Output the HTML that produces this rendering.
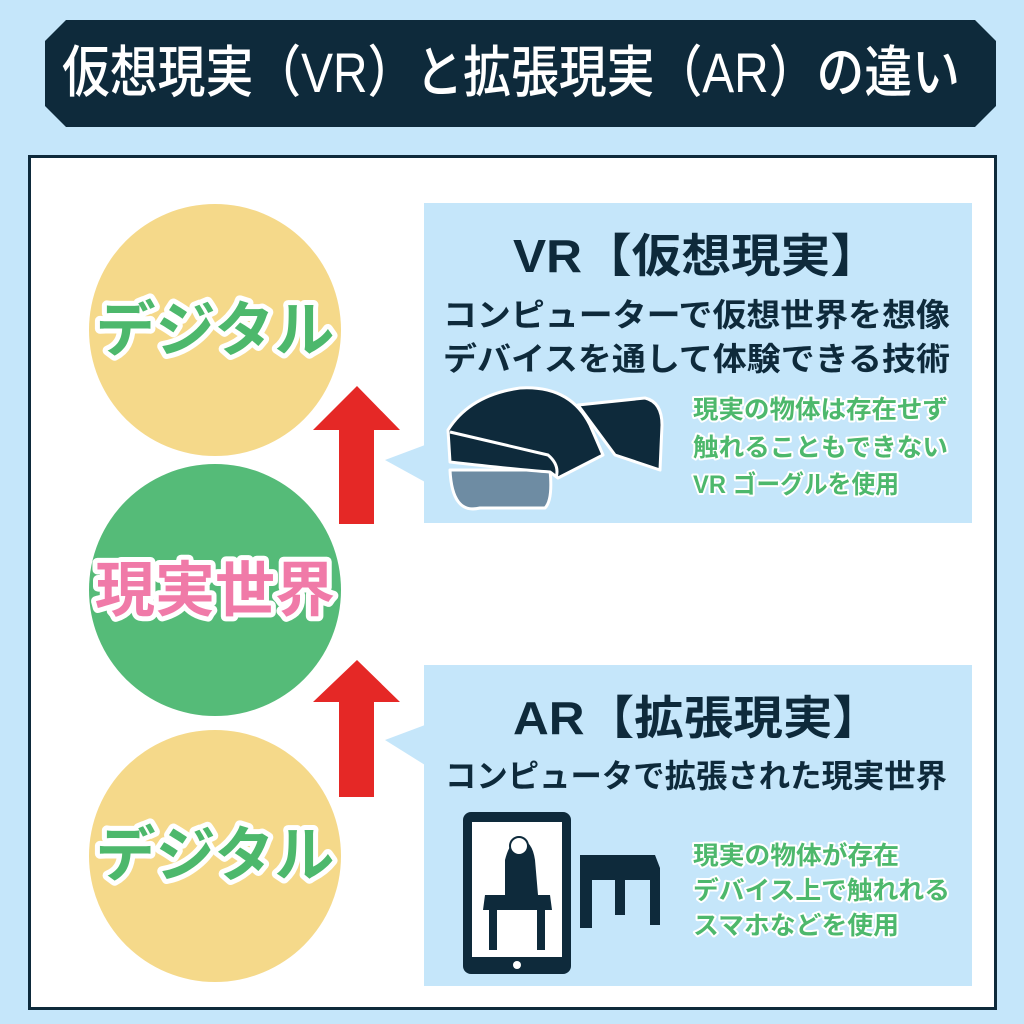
<!DOCTYPE html>
<html><head><meta charset="utf-8"><style>
html,body{margin:0;padding:0;background:#c5e6fa;}
svg{display:block}
text{font-family:"Liberation Sans","Noto Sans CJK JP",sans-serif;font-weight:bold}
</style></head><body>
<svg width="1024" height="1024" viewBox="0 0 1024 1024" xmlns="http://www.w3.org/2000/svg">
<rect width="1024" height="1024" fill="#c5e6fa"/>
<polygon points="66,20 975,20 996,41 996,106 975,127 66,127 45,106 45,41" fill="#0e2a3b"/>
<text x="62" y="92" font-size="56" fill="#fff" textLength="898" lengthAdjust="spacingAndGlyphs" style="font-weight:500">仮想現実（VR）と拡張現実（AR）の違い</text>
<rect x="29.5" y="156.5" width="966" height="852" fill="#fff" stroke="#0e2a3b" stroke-width="3"/>
<circle cx="215" cy="330" r="126" fill="#f5d98a"/>
<circle cx="215" cy="590" r="126" fill="#55bb78"/>
<circle cx="215" cy="856" r="126" fill="#f5d98a"/>
<g font-size="60" text-anchor="middle" stroke="#fff" stroke-width="10" stroke-linejoin="round" paint-order="stroke">
<text x="215" y="351" fill="#4db86c">デジタル</text>
<text x="215" y="611" fill="#f07aa8">現実世界</text>
<text x="215" y="876" fill="#4db86c">デジタル</text>
</g>
<polygon points="357,386 400,430 374,430 374,524 339,524 339,430 313,430" fill="#e52826"/>
<polygon points="357,660 400,702 374,702 374,797 339,797 339,702 313,702" fill="#e52826"/>
<rect x="424" y="203" width="548" height="320" fill="#c5e6fa"/>
<polygon points="425,445 385,460 425,482" fill="#c5e6fa"/>
<rect x="424" y="665" width="548" height="321" fill="#c5e6fa"/>
<polygon points="425,725 385,740 425,765" fill="#c5e6fa"/>
<g fill="#0e2a3b" lengthAdjust="spacingAndGlyphs">
<text x="513" y="272" font-size="46" textLength="367" lengthAdjust="spacingAndGlyphs">VR【仮想現実】</text>
<text x="443" y="326" font-size="32" textLength="507" lengthAdjust="spacingAndGlyphs">コンピューターで仮想世界を想像</text>
<text x="443" y="370" font-size="32" textLength="507" lengthAdjust="spacingAndGlyphs">デバイスを通して体験できる技術</text>
<text x="513" y="734" font-size="46" textLength="369" lengthAdjust="spacingAndGlyphs">AR【拡張現実】</text>
<text x="445" y="787" font-size="32" textLength="502" lengthAdjust="spacingAndGlyphs">コンピュータで拡張された現実世界</text>
</g>
<g fill="#4db86c" font-size="25" stroke="#fff" stroke-width="4" paint-order="stroke" stroke-linejoin="round" style="font-weight:normal">
<text x="693" y="418" textLength="255" lengthAdjust="spacingAndGlyphs">現実の物体は存在せず</text>
<text x="693" y="456" textLength="255" lengthAdjust="spacingAndGlyphs">触れることもできない</text>
<text x="693" y="493" textLength="206" lengthAdjust="spacingAndGlyphs">VR ゴーグルを使用</text>
<text x="693" y="864" textLength="206" lengthAdjust="spacingAndGlyphs">現実の物体が存在</text>
<text x="693" y="899" textLength="257" lengthAdjust="spacingAndGlyphs">デバイス上で触れれる</text>
<text x="693" y="934" textLength="206" lengthAdjust="spacingAndGlyphs">スマホなどを使用</text>
</g>
<!-- VR goggles -->
<g stroke="#fff" stroke-width="3" stroke-linejoin="round">
<path d="M450,470 Q452,515 480,508 L545,508 Q553,500 550,470 Z" fill="#6e8ca3"/>
<path d="M578,405 L645,398 Q662,402 662,425 L660,470 L615,455 Z" fill="#0e2a3b"/>
<path d="M448,430 Q470,395 520,388 Q570,385 590,425 L603,455 L558,478 L550,472 Q520,470 450,462 Z" fill="#0e2a3b"/>
<path d="M450,432 L548,455 Q560,465 556,478" fill="none"/>
</g>
<!-- phone -->
<rect x="463" y="812" width="108" height="162" rx="8" fill="#0e2a3b"/>
<rect x="472" y="822" width="90" height="135" fill="#fff"/>
<circle cx="517" cy="965" r="4" fill="#fff"/>
<path d="M485,895 L550,895 L552,910 L545,910 L545,950 L537,950 L537,910 L497,910 L497,950 L489,950 L489,910 L483,910 Z" fill="#0e2a3b"/>
<path d="M505,895 L505,860 Q510,840 520,840 Q532,840 535,860 L538,895 Z" fill="#0e2a3b"/>
<circle cx="519" cy="846" r="9" fill="#fff" stroke="#0e2a3b" stroke-width="2"/>
<path d="M580,868 L580,855 L655,855 L660,868 L660,925 L650,925 L650,880 L625,880 L625,915 L615,915 L615,880 L592,880 L592,928 L580,928 Z" fill="#0e2a3b"/>
</svg>
</body></html>
